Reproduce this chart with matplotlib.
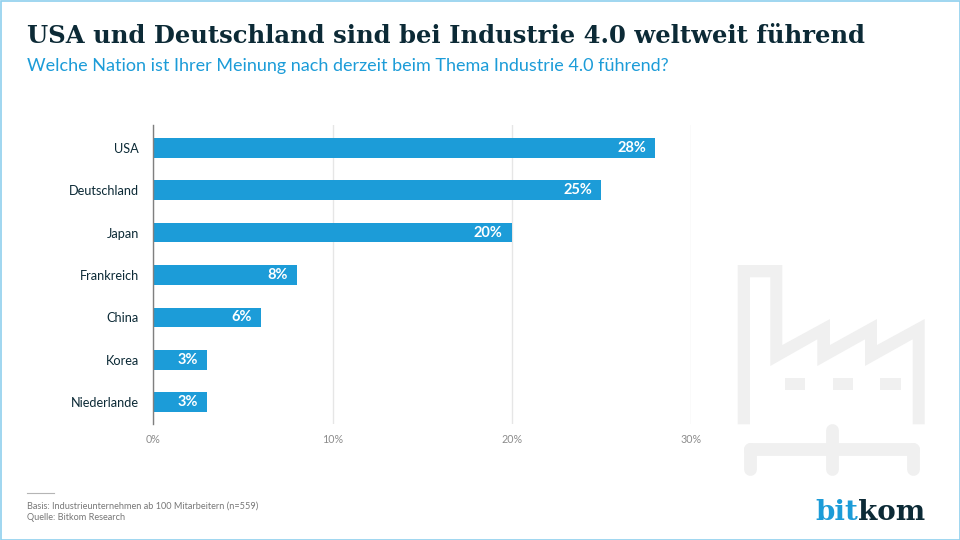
import matplotlib
matplotlib.use("Agg")
from matplotlib import pyplot as plt
from matplotlib.patches import Polygon, Rectangle

countries = ["USA", "Deutschland", "Japan", "Frankreich", "China", "Korea", "Niederlande"]
values = [28, 25, 20, 8, 6, 3, 3]
ticks = [0, 10, 20, 30]

BLUE = "#1c9cd8"
DARK = "#0c2a36"
GREY = "#8c8c8c"
ICON = "#f0f0f0"

plt.rcParams["font.family"] = ["Lato", "DejaVu Sans"]

fig = plt.figure(figsize=(9.6, 5.4), dpi=100)

# overlay in pixel coords for frame, icon and logo
bg = fig.add_axes([0, 0, 1, 1], zorder=0)
bg.set_xlim(0, 960)
bg.set_ylim(540, 0)
bg.axis("off")
bg.add_patch(Rectangle((0.5, 0.5), 959, 539, fill=False, ec="#8fd0ee", lw=1.2))

# factory icon, points taken from the zoomed crop
def zp(x, y):
    return (720 + x / 3, 250 + y / 3)

factory = [(53, 45), (187, 45), (187, 285), (330, 207), (330, 285), (471, 207), (471, 285),
           (614, 207), (614, 523), (578, 523), (578, 268), (435, 348), (435, 268), (292, 348),
           (292, 268), (151, 348), (151, 82), (90, 82), (90, 523), (53, 523)]
bg.add_patch(Polygon([zp(*p) for p in factory], closed=True, fc=ICON, ec="none"))
for wx in [194, 338, 480]:
    x, y = zp(wx, 384)
    bg.add_patch(Rectangle((x, y), 20.5, 12, fc=ICON, ec="none"))

pipes = [([91, 91], [597, 657]), ([335, 335], [541, 657]), ([578, 578], [597, 657]), ([91, 578], [597, 597])]
for px, py in pipes:
    pts = [zp(a, b) for a, b in zip(px, py)]
    bg.plot([p[0] for p in pts], [p[1] for p in pts], color=ICON, lw=9.2, solid_capstyle="round")

# chart
ax = fig.add_axes([153.3 / 960, 1 - 424.3 / 540, (691 - 153.3) / 960, 299 / 540], zorder=1)
ax.patch.set_alpha(0)
pos = list(range(len(countries)))
ax.barh(pos, values, height=0.46, color=BLUE, zorder=3)
ax.set_xlim(0, 30)
ax.set_ylim(6.52, -0.53)
ax.set_yticks(pos)
ax.set_yticklabels(countries, fontsize=9.2, color=DARK)
ax.set_xticks(ticks)
ax.set_xticklabels(["{}%".format(t) for t in ticks], fontsize=7.7, color=GREY)
ax.tick_params(axis="y", length=0, pad=10.5)
ax.tick_params(axis="x", length=0, pad=7)
ax.grid(True, axis="x", color="#e6e6e6", lw=1, zorder=0)
for s in ["top", "right", "bottom"]:
    ax.spines[s].set_visible(False)
ax.spines["left"].set_color("#7f7f7f")
ax.spines["left"].set_linewidth(1)
ax.spines["left"].set_zorder(4)

for i, v in enumerate(values):
    ax.text(v - 0.5, i, "{}%".format(v), color="white", fontsize=10.5, fontweight="bold",
            ha="right", va="center", zorder=5)

# header
fig.text(27 / 960, 1 - 36 / 540, "USA und Deutschland sind bei Industrie 4.0 weltweit führend",
         family="DejaVu Serif", fontweight="bold", fontsize=17.5, color=DARK, va="center")
fig.text(27 / 960, 1 - 66 / 540, "Welche Nation ist Ihrer Meinung nach derzeit beim Thema Industrie 4.0 führend?",
         fontsize=12.95, color=BLUE, va="center")

# footer
bg.plot([27, 54], [493, 493], color="#b5b5b5", lw=0.8)
fig.text(27 / 960, 1 - 506 / 540, "Basis: Industrieunternehmen ab 100 Mitarbeitern (n=559)",
         fontsize=6.6, color="#777777", va="center")
fig.text(27 / 960, 1 - 518 / 540, "Quelle: Bitkom Research", fontsize=6.6, color="#777777", va="center")

# logo
bit = fig.text(815 / 960, 1 - 520 / 540, "bit", family="DejaVu Serif", fontweight="bold",
               fontsize=20, color=BLUE, va="baseline")
fig.canvas.draw()
bb = bit.get_window_extent()
fig.text(bb.x1 / 960, 1 - 520 / 540, "kom", family="DejaVu Serif", fontweight="bold",
         fontsize=20, color=DARK, va="baseline")

fig.savefig("out.png", dpi=100)
